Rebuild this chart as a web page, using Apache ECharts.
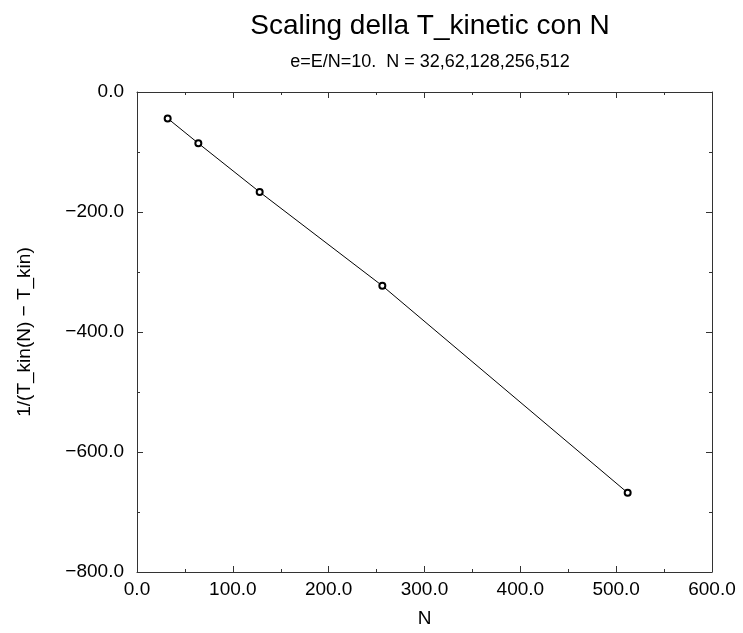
<!DOCTYPE html>
<html>
<head>
<meta charset="utf-8">
<script src="https://cdn.jsdelivr.net/npm/echarts@6/dist/echarts.min.js"></script>
<style>html,body{margin:0;padding:0;background:#fff}#c{width:743px;height:633px}</style>
</head>
<body>
<div id="c"></div>
<script>
var nValues = [32, 64, 128, 256, 512];
var invDiff = [-44, -85.5, -166.7, -323, -668];
var titleText = 'Scaling della T_kinetic con N';
var subtitleText = 'e=E/N=10.  N = 32,62,128,256,512';
var xName = 'N';
var yName = '1/(T_kin(N) \u2212 T_kin)';

var fmt = function (v) { return v.toFixed(1).replace('-', '\u2212'); };
var font = 'Liberation Sans, Arial, sans-serif';
var axisCol = '#333';

var chart = echarts.init(document.getElementById('c'), null, {renderer: 'canvas'});
var common = {
  axisLine: {show: true, onZero: false, lineStyle: {color: axisCol, width: 1}},
  axisTick: {show: true, inside: true, length: 6, lineStyle: {color: axisCol}},
  minorTick: {show: true, splitNumber: 2, length: 3, lineStyle: {color: axisCol}},
  splitLine: {show: false}
};
chart.setOption({
  animation: false,
  title: [
    {text: titleText, left: 425, top: 7, textAlign: 'center',
     textStyle: {fontFamily: font, fontSize: 28, fontWeight: 'normal', color: '#000'}},
    {text: subtitleText, left: 425, top: 48, textAlign: 'center',
     textStyle: {fontFamily: font, fontSize: 18, fontWeight: 'normal', color: '#000'}}
  ],
  grid: {left: 137, top: 92, width: 575, height: 480},
  xAxis: [
    Object.assign({type: 'value', position: 'bottom', min: 0, max: 600, interval: 100,
      name: xName, nameLocation: 'middle', nameGap: 37,
      nameTextStyle: {fontFamily: font, fontSize: 19, color: '#000'},
      axisLabel: {formatter: fmt, margin: 8, fontFamily: font, fontSize: 19, color: '#000'}}, common),
    Object.assign({type: 'value', position: 'top', min: 0, max: 600, interval: 100,
      axisLabel: {show: false}}, common)
  ],
  yAxis: [
    Object.assign({type: 'value', position: 'left', min: -800, max: 0, interval: 200,
      name: yName, nameLocation: 'middle', nameGap: 103, nameRotate: 90,
      nameTextStyle: {fontFamily: font, fontSize: 19, color: '#000'},
      axisLabel: {formatter: fmt, margin: 13, fontFamily: font, fontSize: 19, color: '#000'}}, common),
    Object.assign({type: 'value', position: 'right', min: -800, max: 0, interval: 200,
      axisLabel: {show: false}}, common)
  ],
  series: [{
    type: 'line',
    data: nValues.map(function (n, i) { return [n, invDiff[i]]; }),
    symbol: 'emptyCircle',
    symbolSize: 6,
    lineStyle: {color: '#000', width: 1},
    itemStyle: {color: '#000', borderColor: '#000', borderWidth: 1}
  }]
});
</script>
</body>
</html>
